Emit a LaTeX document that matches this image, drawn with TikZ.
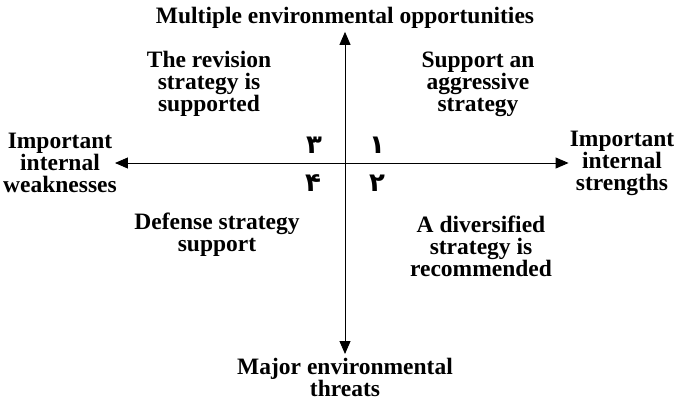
\documentclass[tikz,border=0pt]{standalone}
\usepackage{fontspec}
\setmainfont{Liberation Serif}
\newfontfamily\fadigits{DejaVu Sans}
\usetikzlibrary{arrows.meta}
\tikzset{
  lbl/.style={font=\fontsize{23.5}{22}\selectfont\bfseries, align=center, inner sep=1pt},
  num/.style={font=\fontsize{26}{26}\fadigits\bfseries, inner sep=0pt},
  axis/.style={line width=0.9pt, {Triangle[length=13pt,width=11pt]}-{Triangle[length=13pt,width=11pt]}}
}
\begin{document}
\begin{tikzpicture}[x=1pt,y=-1pt]
\useasboundingbox (0,0) rectangle (675,402);
\node[lbl] (opp) at (345,18) {Multiple environmental opportunities};
\node[lbl,anchor=north,inner sep=0pt] (thr) at (345,358) {Major environmental\\threats};
\node[lbl] (weak) at (60,163) {Important\\internal\\weaknesses};
\node[lbl] (strong) at (622,163) {Important\\internal\\strengths};
\draw[axis, shorten <=-3pt] (weak) -- (strong);
\draw[axis, shorten <=2pt, shorten >=4pt] (opp) -- (thr);
\node[lbl] (q3) at (209,84) {The revision\\strategy is\\supported};
\node[lbl] (q1) at (478,84) {Support an\\aggressive\\strategy};
\node[lbl] (q4) at (217,235) {Defense strategy\\support};
\node[lbl] (q2) at (481,246) {A diversified\\strategy is\\recommended};
\node[num] (n3) at (314,145) {۳};
\node[num] (n1) at (377,145) {۱};
\node[num] (n4) at (313,183) {۴};
\node[num] (n2) at (377,183) {۲};
\end{tikzpicture}
\end{document}
